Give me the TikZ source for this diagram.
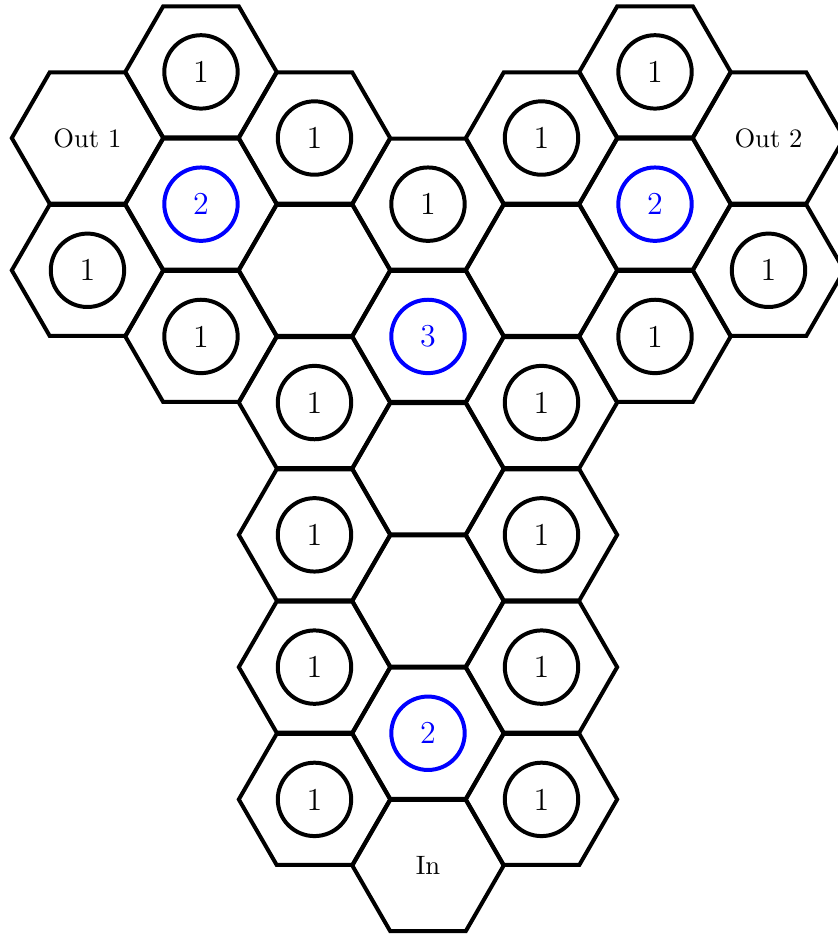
\documentclass[tikz,border=0pt]{standalone}
\usetikzlibrary{shapes.geometric}

\tikzset{
    cell/.style={draw, line width=1.5pt, regular polygon, regular polygon sides=6,
        minimum size=2cm, inner sep=0pt},
    token/.style={draw, circle, line width=1.5pt, minimum size=0.97cm, inner sep=0pt, font=\large},
    hot/.style={token, blue}
}

\begin{document}
\begin{tikzpicture}
    \clip (-5.656,-0.918) rectangle (5.418,11.438);
    % Cells holding a single token
    \foreach \c/\k [count=\i] in {-3/9, -2/12, -2/8, -1/11, -1/7, -1/5, -1/3, -1/1, 0/10,
                                   1/11, 1/7, 1/5, 1/3, 1/1, 2/12, 2/8, 3/9} {
        \node[cell] (h\i) at (1.5*\c, 0.874*\k) {};
        \node[token] (t\i) at (h\i) {1};
    }
    % Cells holding several tokens
    \foreach \c/\k/\n [count=\i] in {-2/10/2, 2/10/2, 0/8/3, 0/2/2} {
        \node[cell] (m\i) at (1.5*\c, 0.874*\k) {};
        \node[hot] (s\i) at (m\i) {\n};
    }
    % Empty cells
    \foreach \c/\k [count=\i] in {-1/9, 0/6, 0/4, 1/9} {
        \node[cell] (e\i) at (1.5*\c, 0.874*\k) {};
    }
    % Input and outputs
    \node[cell] (out1) at (-4.5, 0.874*11) {Out 1};
    \node[cell] (out2) at (4.5, 0.874*11) {Out 2};
    \node[cell] (in) at (0, 0) {In};
\end{tikzpicture}
\end{document}
